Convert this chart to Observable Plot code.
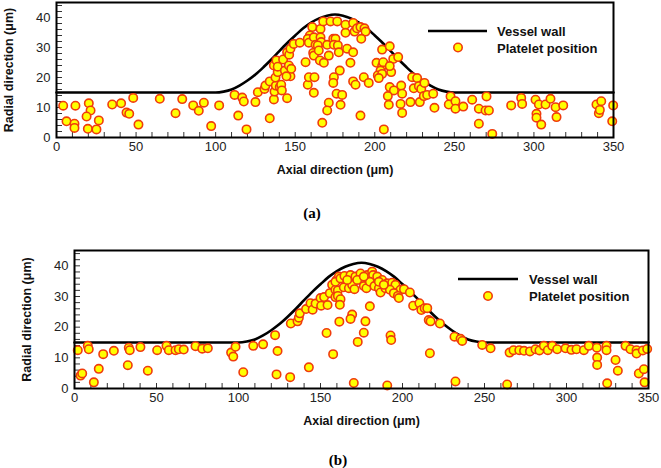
<!DOCTYPE html>
<html><head><meta charset="utf-8">
<script src="https://cdn.jsdelivr.net/npm/d3@7"></script>
<script src="https://cdn.jsdelivr.net/npm/@observablehq/plot@0.6"></script>
<style>
body{margin:0;background:#fff;}
#wrap{position:relative;width:661px;height:468px;font-family:"Liberation Sans",Arial,sans-serif;overflow:hidden;}
.panel{position:absolute;left:0;}
.cap{position:absolute;font-family:"Liberation Serif","Times New Roman",serif;font-weight:bold;font-size:15px;transform:translate(-50%,-50%);}
.leg{position:absolute;font-weight:bold;font-size:13px;color:#111;transform:translateY(-50%);white-space:nowrap;}
.glyph{position:absolute;}
g[aria-label$="axis label"] text{font-weight:bold;font-size:12.5px;fill:#111;}
</style></head>
<body><div id="wrap"></div>
<script>
// Vessel wall profile
const wallX = [0,100,105,110,115,120,125,130,135,140,145,150,155,160,165,170,175,180,185,190,195,200,205,210,215,220,225,230,235,240,245,250,350];
const wallY = [15,15,15.3,16,17.3,19,21,23.4,26,28.8,31.5,34,36.4,38.3,39.7,40.6,41,40.6,39.7,38.3,36.4,34,31.5,28.8,26,23.4,21,19,17.3,16,15.3,15,15];

// Panel (a) platelet positions [axial, radial]
const plateletsA = [
[4.2,10.6],[6.3,5.4],[11.9,10.6],[11.3,4.6],[11.3,3.2],[20.3,11.4],[21.4,9],[18.9,7],[19.7,2.9],[25.1,2.7],[26.6,5.7],[35,11],[40.6,11.4],[44,8.3],[45.7,7.9],[48.2,13.2],[51.5,4.3],[64.9,12.9],[74.8,8.1],[79,12.8],
[85.9,10.7],[89.4,8.9],[92.6,11.6],[97.2,3.8],[102.2,10.7],[111.9,14.2],[116.7,13.3],[117.7,12],[114.2,7.3],[119.4,2.7],[125,11.8],[126.5,15.1],[130.7,16.2],[131.3,17.3],[134,6.4],[134,18.7],[136.6,12.7],[137,15.3],[137.8,17.3],[137.6,20],[139,21.8],[136.6,24],[138.2,25.7],[139,23.6],[140.3,16.8],[141.2,17.6],[141.6,15.7],[142.4,26],[143.5,22.3],[144.9,13.1],[144.9,28.4],[146,24],[147,20.4],[147.5,22.9],[144.5,20.4],[146.2,27.6],[147,29.6],[149.1,31.2],[152.9,31.6],[156.5,25.1],[157.9,17.6],
[160.7,36.8],[159.2,34],[157.9,32.9],[158.6,31.6],[161.7,33.4],[162.8,30.9],[161.3,28.2],[161.7,27.3],[158.6,20.1],[162.1,20.1],[161.7,14.9],[165.9,36.2],[165.9,33.4],[166.3,31.8],[167.6,38.7],[164.2,30.7],[164.8,29],[165.5,25.7],[168,24.9],[167,4.9],[170.1,30.9],[171.1,27.3],[172.2,38.7],[173.9,32.9],[175.3,32.9],[174.3,30.9],[176.4,38.7],[176.8,30.7],[177.4,28.4],[178,22.3],[174.3,20.1],[173.9,18.2],[176,14.6],[179.5,14.2],[171.1,11.6],[170.1,9],[178.5,10.9],[181.6,37.6],[181.6,34.9],[182.6,29.6],[186.4,38.2],[187.3,35.3],[188.8,36.4],[186.4,28.4],[184.7,24.9],[186.4,18.7],[187.9,17.6],[191,36.8],[193.5,36.4],[194.2,35.3],[191.5,32.9],[191,7.3],[193.1,20.1],[196.2,18.2],[204.6,29.3],[209.4,30.4],[201.1,24.9],[204.6,23.8],[205.3,25.1],[203.6,22.3],[201.9,20.7],[204.6,21.2],[202.5,19.8],[210.3,21.8],[211.6,26.2],[214.7,26.8],[209.4,23.8],[205.7,2.7],[209.4,16.8],[212,15.7],[208.2,13.8],[216.6,17.3],[217.2,14.6],[208.8,10.9],[216.2,11.2],[217.2,8.2],[222.4,11.8],[223.5,20.1],[226.6,19.8],[224.5,16.4],[227.7,17.1],[229.2,16.2],[228.3,11.8],[231.2,18.2],[230.8,13.8],[232.9,14.2],
[236.7,14.6],[237.5,9.9],[247.6,13.7],[246.5,11],[250.7,12.1],[250.7,9.6],[255.6,10.3],[261.2,12.6],[265.4,9.6],[269.6,9],[271.7,9],[270.2,13.7],[265.4,4.6],[273.8,1.2],[285.7,10.7],[292,13.2],[292.6,11.2],[301,12.6],[303.1,11],[307.3,11],[310.4,12.9],[301.6,7.9],[301.6,6.6],[304.6,4.3],[313.6,10.1],[318.4,10.7],[314.2,6.8],[339.3,11],[342.3,12.1],[340.8,8.1],[341.4,9.2],[349.8,10.7],[349.2,5.4]
];

// Panel (b) platelet positions [axial, radial]
const plateletsB = [
[2,12.5],[3.7,4.2],[4.7,4.9],[8.1,13.9],[8.7,12.8],[11.8,2],[14.8,6.4],[17.5,11.2],[24,12.3],[32.5,7.6],[33.1,13.3],[33.7,12.5],[40.2,13.5],[44.7,5.8],[50.4,12.5],[56.1,13.9],[57.5,12.5],[61.6,12.5],[63.6,12.8],[66.6,12.7],[73.8,13.8],[77.9,13],[81.3,13.1],[95.5,11.7],[96.8,10.4],[98.2,13.6],[102.9,5.3],[109,13.9],[115,14.4],[122.3,17.4],[123.8,12.2],[123.2,4.6],[131.5,3.7],[131.9,21.2],[136,21.9],[136.8,23.1],[137.4,24.5],[142.9,6.9],[141.2,25.9],[143.9,27.8],[145.2,25.7],[147,27.7],[150,29.5],[150.4,27],[152.2,29.8],[154.3,27.2],[153.7,18.1],[155.7,31.1],[157.1,33.8],[157.7,11.2],[159.1,32.2],[159.1,29.8],[159.8,35.4],[161.2,36.5],[161.5,21.8],
[159.1,34.8],[162.2,35.9],[164.6,36.7],[168.3,37],[171.3,36.5],[174.4,37.5],[178.5,37],[181.5,38.1],[182.1,37],[184.6,36.5],[187.6,35.4],[190.7,34.3],[193.7,34.5],[195.7,33.8],[198.8,32.2],[200.9,32.4],[204.5,31.3],[160.6,32],[164.2,33],[167.3,32.7],[169.3,33.8],[170.7,32.4],[174.4,35.4],[176.4,33.4],[178,32.7],[180.1,34.8],[182.9,33.4],[185.6,32.7],[186.6,31.3],[189.6,32.7],[192.3,32.2],[194.7,31.1],[197.2,30.2],[197.8,29.5],[160.6,30.2],[162.2,29.1],[161.8,27.3],[172.4,35.4],[166.3,35.4],[176.4,36.5],[185.6,34.8],[188.6,33.8],
[180.1,26.8],[169.3,24.1],[168.3,22.7],[177.4,21.9],[176.4,18.2],[172.7,15.2],[192.7,17.3],[193.1,15.8],[216.7,11.5],[170.3,1.8],[190.7,1],[206.5,27],[210.3,27.8],[211.5,25.6],[213.5,26.2],[215.1,26.2],[216,22.3],[217.1,21.9],[222.8,21.2],[231.7,16.9],[235.4,16.2],[236.4,15.5],[232.3,2.3],
[248.6,14.2],[253.7,13.1],[265.3,11.7],[267.7,12.5],[271.2,12.5],[274.1,12.3],[277.7,12.1],[281.1,12.8],[283.5,12.4],[286.2,13.9],[288.6,12.5],[291.3,13.9],[294.3,12.8],[299.4,13.1],[303,12.6],[306.1,12.8],[310.6,12.5],[313.6,13.9],[318.5,13.3],[324.4,13.9],[324.4,12.5],[336,13.9],[339,12.8],[342.7,12.5],[342.7,11.4],[346.5,12.4],[349.2,12.9],[263.8,1.3],[318.7,10.1],[318.7,7.7],[324.8,1.7],[329.9,9.3],[331.3,5.8],[344.1,4.9],[347.2,6.3],[347.6,2]
];

const xTickLabels = [0,50,100,150,200,250,300,350];
const yTickLabels = [0,10,20,30,40];
const xDomain = [0,350];
const yDomain = [0,45];

const wall = wallX.map((x,i)=>({x, y: wallY[i]}));

function panel(points, {width, height, mt, mr, mb, ml}) {
  const pts = points.map(([x,y])=>({x,y}));
  const fw = width-ml-mr, fh = height-mt-mb;
  return Plot.plot({
    width, height, marginTop: mt, marginRight: mr, marginBottom: mb, marginLeft: ml,
    style: {fontFamily: "Liberation Sans, Arial, sans-serif", fontSize: "13px", color: "#222", background: "transparent", overflow: "visible"},
    x: {domain: xDomain},
    y: {domain: yDomain},
    marks: [
      Plot.ruleX(d3.range(0,351,10), {insetTop: fh-5, stroke: "#333", strokeWidth: 1}),
      Plot.ruleY(d3.range(0,45,2), {insetRight: fw-6, stroke: "#333", strokeWidth: 1}),
      Plot.line(wall, {x: "x", y: "y", stroke: "black", strokeWidth: 2.6, curve: "monotone-x"}),
      Plot.dot(pts, {x: "x", y: "y", r: 4.2, fill: "#ffff00", stroke: "#f03c0c", strokeWidth: 1.6}),
      Plot.frame({stroke: "black", strokeWidth: 2}),
      Plot.axisX({ticks: xTickLabels, tickSize: 0, tickPadding: 4, label: "Axial direction (μm)", labelAnchor: "center", labelArrow: "none", labelOffset: 36}),
      Plot.axisY({ticks: yTickLabels, tickSize: 0, tickPadding: 6, label: "Radial direction (μm)", labelAnchor: "center", labelArrow: "none", labelOffset: 52})
    ]
  });
}

const wrap = document.getElementById("wrap");

function place(el, top) { el.classList.add("panel"); el.style.top = top + "px"; wrap.appendChild(el); }

place(panel(plateletsA, {width: 661, height: 175, mt: 2, mr: 48, mb: 38, ml: 56}), 0);
place(panel(plateletsB, {width: 661, height: 184, mt: 4, mr: 13, mb: 42, ml: 74}), 246);

function legend(lineX1, lineX2, lineY, dotX, dotY, textX) {
  const svg = d3.create("svg").attr("class","glyph").attr("width",661).attr("height",468).style("left","0px").style("top","0px");
  svg.append("line").attr("x1",lineX1).attr("x2",lineX2).attr("y1",lineY).attr("y2",lineY).attr("stroke","black").attr("stroke-width",2.6);
  svg.append("circle").attr("cx",dotX).attr("cy",dotY).attr("r",4.2).attr("fill","#ffff00").attr("stroke","#f03c0c").attr("stroke-width",1.6);
  wrap.appendChild(svg.node());
  const t1 = document.createElement("div"); t1.className="leg"; t1.textContent="Vessel wall"; t1.style.left=textX+"px"; t1.style.top=lineY+"px"; wrap.appendChild(t1);
  const t2 = document.createElement("div"); t2.className="leg"; t2.textContent="Platelet position"; t2.style.left=textX+"px"; t2.style.top=dotY+"px"; wrap.appendChild(t2);
}
legend(428, 487, 31, 458, 47.5, 497);
legend(458, 518, 279, 488, 296, 529);

function caption(text, x, y) {
  const c = document.createElement("div"); c.className="cap"; c.textContent=text; c.style.left=x+"px"; c.style.top=y+"px"; wrap.appendChild(c);
}
caption("(a)", 312, 213);
caption("(b)", 338, 460);
</script>
</body></html>
